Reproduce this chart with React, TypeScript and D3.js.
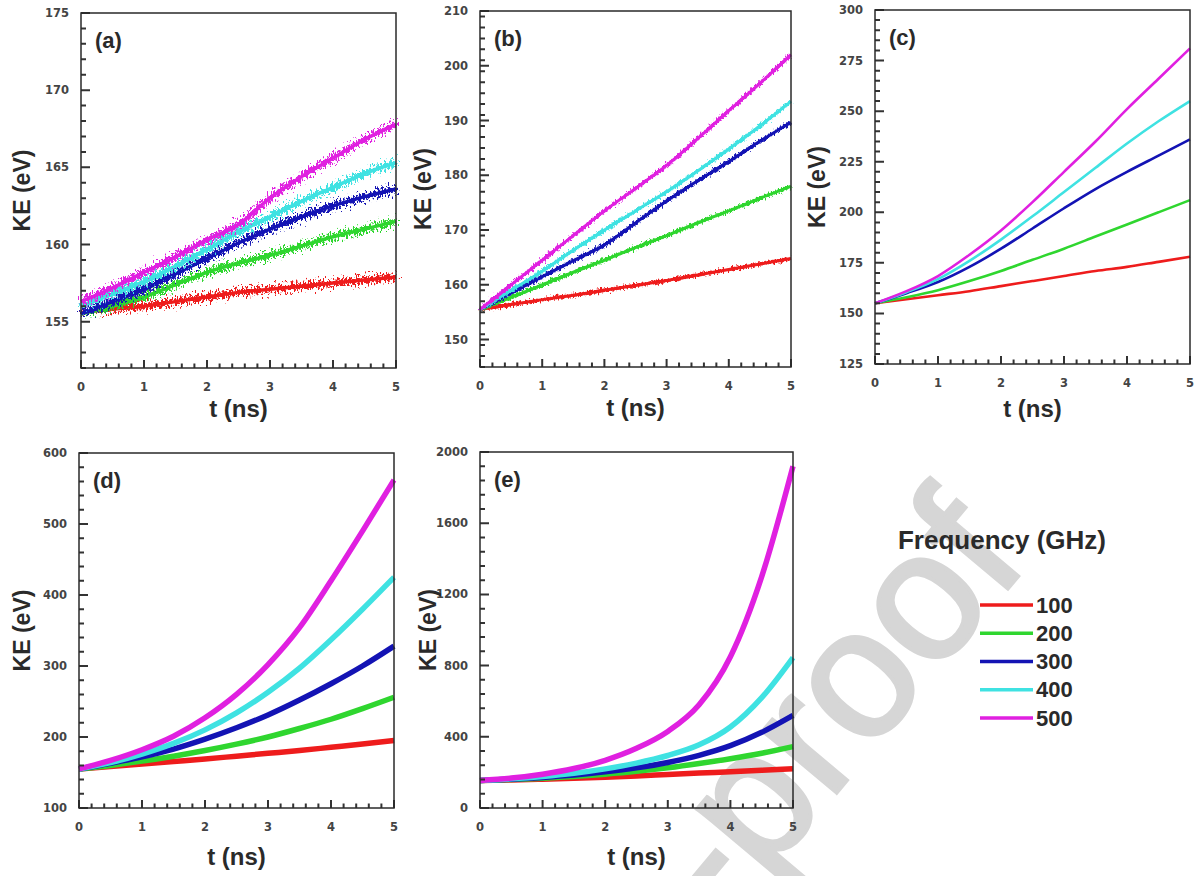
import React, { useEffect, useRef } from 'react';
import * as d3 from 'd3';

// time grid (ns) shared by every panel
const times = [0, 0.5, 1, 1.5, 2, 2.5, 3, 3.5, 4, 4.5, 5];
const frequencies = ['100', '200', '300', '400', '500'];
const colors = ['#ee1c1c', '#2fd62f', '#1313b4', '#3fe2e2', '#e020e0'];
const panelLabels = ['(a)', '(b)', '(c)', '(d)', '(e)'];
const xTicks = [0, 1, 2, 3, 4, 5];

// KE (eV), one array per frequency
const keA100 = [155.6, 155.8, 156.0, 156.3, 156.6, 156.9, 157.1, 157.3, 157.5, 157.7, 157.9];
const keA200 = [155.5, 156.0, 156.6, 157.4, 158.2, 158.8, 159.3, 159.9, 160.5, 161.0, 161.5];
const keA300 = [155.5, 156.3, 157.1, 158.1, 159.1, 160.1, 161.0, 161.8, 162.5, 163.1, 163.6];
const keA400 = [156.0, 156.8, 157.6, 158.6, 159.7, 160.8, 161.8, 162.8, 163.7, 164.6, 165.3];
const keA500 = [156.3, 157.2, 158.2, 159.2, 160.3, 161.3, 163.0, 164.4, 165.6, 166.8, 167.8];

const keB100 = [155.5, 156.4, 157.3, 158.1, 159.0, 159.9, 160.8, 161.8, 162.8, 163.8, 164.8];
const keB200 = [155.5, 157.7, 160.0, 162.3, 164.5, 166.8, 169.0, 171.3, 173.5, 175.8, 178.0];
const keB300 = [155.5, 158.5, 161.5, 164.4, 167.3, 171.3, 175.3, 179.0, 182.5, 186.2, 189.7];
const keB400 = [155.5, 159.0, 162.5, 166.3, 170.0, 173.5, 177.0, 180.8, 184.8, 189.0, 193.5];
const keB500 = [155.5, 160.0, 164.5, 169.0, 173.5, 177.6, 181.8, 186.7, 191.8, 196.8, 202.0];

const keC100 = [155, 157, 159, 161, 163.5, 166, 168.5, 171, 173, 175.5, 178];
const keC200 = [155, 158, 161.5, 166, 171, 176.5, 182, 188, 194, 200, 206];
const keC300 = [155, 160, 165.5, 173, 182, 192, 202, 211.5, 220, 228, 236];
const keC400 = [155, 160.5, 167, 176, 186.5, 198, 210, 222, 234, 245, 255];
const keC500 = [155, 161, 168.5, 179, 191, 205, 220, 235, 251, 266, 281];

const keD100 = [155, 158.5, 162, 165.5, 169, 173, 177, 181, 185.5, 190, 195];
const keD200 = [155, 160, 166, 173, 181, 190, 200, 212, 225, 240, 256];
const keD300 = [155, 163, 172, 183, 197, 213, 231, 252, 275, 300, 328];
const keD400 = [155, 164, 176, 191, 210, 234, 263, 297, 337, 380, 425];
const keD500 = [155, 167, 182, 201, 227, 260, 302, 354, 420, 490, 562];

const keE100 = [155, 158, 162, 167, 173, 180, 188, 196, 204, 212, 220];
const keE200 = [155, 160, 167, 177, 190, 206, 226, 250, 277, 308, 345];
const keE300 = [155, 162, 172, 185, 203, 226, 256, 296, 350, 425, 520];
const keE400 = [155, 164, 177, 195, 220, 252, 295, 355, 455, 620, 845];
const keE500 = [155, 168, 190, 222, 268, 335, 430, 580, 850, 1300, 1920];

// y tick labels per panel
const yTicksA = [155, 160, 165, 170, 175];
const yTicksB = [150, 160, 170, 180, 190, 200, 210];
const yTicksC = [125, 150, 175, 200, 225, 250, 275, 300];
const yTicksD = [100, 200, 300, 400, 500, 600];
const yTicksE = [0, 400, 800, 1200, 1600, 2000];

const panels = [
  { left: 81, right: 396, top: 13, bottom: 368, domain: [152, 175], ticks: yTicksA, minor: 1,
    series: [keA100, keA200, keA300, keA400, keA500], width: 3.5, noise: 'noiseA', noiseWidth: 6, ylab: 59, xlab: 49 },
  { left: 480, right: 791, top: 11, bottom: 367, domain: [145, 210], ticks: yTicksB, minor: 2,
    series: [keB100, keB200, keB300, keB400, keB500], width: 3, noise: 'noiseB', noiseWidth: 3.5, ylab: 57, xlab: 49 },
  { left: 875, right: 1190, top: 10, bottom: 364, domain: [125, 300], ticks: yTicksC, minor: 5,
    series: [keC100, keC200, keC300, keC400, keC500], width: 2.6, noise: null, noiseWidth: 0, ylab: 58, xlab: 53 },
  { left: 79, right: 394, top: 453, bottom: 808, domain: [100, 600], ticks: yTicksD, minor: 20,
    series: [keD100, keD200, keD300, keD400, keD500], width: 5.5, noise: null, noiseWidth: 0, ylab: 57, xlab: 57 },
  { left: 480, right: 793, top: 452, bottom: 808, domain: [0, 2000], ticks: yTicksE, minor: 80,
    series: [keE100, keE200, keE300, keE400, keE500], width: 5.5, noise: null, noiseWidth: 0, ylab: 52, xlab: 57 }
];

const FONT = 'Liberation Sans, Arial, sans-serif';
const TICK_FONT = 'DejaVu Sans, sans-serif';
const INK = '#2a2a2a';

export default function App() {
  const svgRef = useRef<SVGSVGElement>(null);

  useEffect(() => {
    const svg = d3.select(svgRef.current);
    svg.selectAll('*').remove();

    const defs = svg.append('defs');
    const addNoise = (id: string, freq: string, scale: number) => {
      const f = defs.append('filter')
        .attr('id', id)
        .attr('filterUnits', 'userSpaceOnUse')
        .attr('x', 0).attr('y', 0).attr('width', 1199).attr('height', 876);
      f.append('feTurbulence')
        .attr('type', 'fractalNoise')
        .attr('baseFrequency', freq)
        .attr('numOctaves', 3)
        .attr('seed', 7)
        .attr('result', 'n');
      f.append('feDisplacementMap')
        .attr('in', 'SourceGraphic')
        .attr('in2', 'n')
        .attr('scale', scale)
        .attr('xChannelSelector', 'R')
        .attr('yChannelSelector', 'G');
    };
    addNoise('noiseA', '0.6 0.3', 20);
    addNoise('noiseB', '0.6 0.3', 7);

    // watermark behind everything
    svg.append('text')
      .attr('transform', 'translate(1030,562) rotate(-50)')
      .attr('text-anchor', 'end')
      .attr('font-family', FONT)
      .attr('font-size', 182)
      .attr('fill', '#d6d6d6')
      .attr('stroke', '#d6d6d6')
      .attr('stroke-width', 4)
      .text('Pre-proof');

    panels.forEach((p, pi) => {
      const x = d3.scaleLinear().domain([0, 5]).range([p.left, p.right]);
      const y = d3.scaleLinear().domain(p.domain).range([p.bottom, p.top]);
      const g = svg.append('g');

      const line = d3.line<number>()
        .x((_, i) => x(times[i]))
        .y((d) => y(d))
        .curve(d3.curveMonotoneX);

      // each series: a solid core, plus a jittered halo for the noisy panels
      p.series.forEach((s, si) => {
        if (p.noise) {
          g.append('path')
            .attr('d', line(s))
            .attr('fill', 'none')
            .attr('stroke', colors[si])
            .attr('stroke-width', p.noiseWidth)
            .attr('filter', `url(#${p.noise})`);
        }
        g.append('path')
          .attr('d', line(s))
          .attr('fill', 'none')
          .attr('stroke', colors[si])
          .attr('stroke-width', p.width);
      });

      const minorY = d3.range(p.domain[0], p.domain[1] + 0.001, p.minor)
        .filter((v) => !p.ticks.some((t) => Math.abs(t - v) < 1e-6));
      const minorX = d3.range(0, 5.001, 0.2).filter((v) => Math.abs(v - Math.round(v)) > 0.01);

      // inward ticks on left and bottom, drawn as one path per panel
      const yMajor = p.ticks.map((v) => `M${p.left},${y(v)}h9`).join('');
      const yMinor = minorY.map((v) => `M${p.left},${y(v)}h5`).join('');
      const xMajor = xTicks.map((v) => `M${x(v)},${p.bottom}v-8`).join('');
      const xMinor = minorX.map((v) => `M${x(v)},${p.bottom}v-4.5`).join('');
      g.append('path')
        .attr('d', yMajor + yMinor + xMajor + xMinor)
        .attr('fill', 'none')
        .attr('stroke', '#333')
        .attr('stroke-width', 2);

      g.selectAll('.ylabel')
        .data(p.ticks)
        .enter()
        .append('text')
        .attr('x', p.left - 12)
        .attr('y', (d) => y(d))
        .attr('text-anchor', 'end')
        .attr('dominant-baseline', 'central')
        .attr('font-family', TICK_FONT)
        .attr('font-weight', 'bold')
        .attr('font-size', 11.5)
        .attr('fill', '#444')
        .text((d) => d);
      g.selectAll('.xlabel')
        .data(xTicks)
        .enter()
        .append('text')
        .attr('x', (d) => x(d))
        .attr('y', p.bottom + 19)
        .attr('text-anchor', 'middle')
        .attr('dominant-baseline', 'central')
        .attr('font-family', TICK_FONT)
        .attr('font-weight', 'bold')
        .attr('font-size', 11.5)
        .attr('fill', '#444')
        .text((d) => d);

      g.append('rect')
        .attr('x', p.left)
        .attr('y', p.top)
        .attr('width', p.right - p.left)
        .attr('height', p.bottom - p.top)
        .attr('fill', 'none')
        .attr('stroke', INK)
        .attr('stroke-width', 1.5);

      g.append('text')
        .attr('x', p.left + 14)
        .attr('y', p.top + 35)
        .attr('font-family', FONT)
        .attr('font-weight', 'bold')
        .attr('font-size', 22)
        .attr('fill', INK)
        .text(panelLabels[pi]);

      g.append('text')
        .attr('x', (p.left + p.right) / 2)
        .attr('y', p.bottom + p.xlab)
        .attr('text-anchor', 'middle')
        .attr('font-family', FONT)
        .attr('font-weight', 'bold')
        .attr('font-size', 24)
        .attr('fill', INK)
        .text('t (ns)');

      g.append('text')
        .attr('transform', `translate(${p.left - p.ylab},${(p.top + p.bottom) / 2}) rotate(-90)`)
        .attr('text-anchor', 'middle')
        .attr('dominant-baseline', 'central')
        .attr('font-family', FONT)
        .attr('font-weight', 'bold')
        .attr('font-size', 23)
        .attr('fill', INK)
        .text('KE (eV)');
    });

    // legend
    const leg = svg.append('g');
    leg.append('text')
      .attr('x', 1002)
      .attr('y', 549)
      .attr('text-anchor', 'middle')
      .attr('font-family', FONT)
      .attr('font-weight', 'bold')
      .attr('font-size', 26)
      .attr('fill', INK)
      .text('Frequency (GHz)');

    const rowY = d3.scaleLinear().domain([0, 4]).range([605, 718]);
    const rows = leg.selectAll('.row')
      .data(frequencies)
      .enter()
      .append('g');
    rows.append('line')
      .attr('x1', 980)
      .attr('x2', 1033)
      .attr('y1', (_, i) => rowY(i))
      .attr('y2', (_, i) => rowY(i))
      .attr('stroke', (_, i) => colors[i])
      .attr('stroke-width', 3.5);
    rows.append('text')
      .attr('x', 1036)
      .attr('y', (_, i) => rowY(i))
      .attr('dominant-baseline', 'central')
      .attr('font-family', FONT)
      .attr('font-weight', 'bold')
      .attr('font-size', 22)
      .attr('fill', INK)
      .text((d) => d);
  }, []);

  return (
    <div style={{ position: 'absolute', left: 0, top: 0, background: '#fff' }}>
      <svg ref={svgRef} width={1199} height={876} />
    </div>
  );
}
